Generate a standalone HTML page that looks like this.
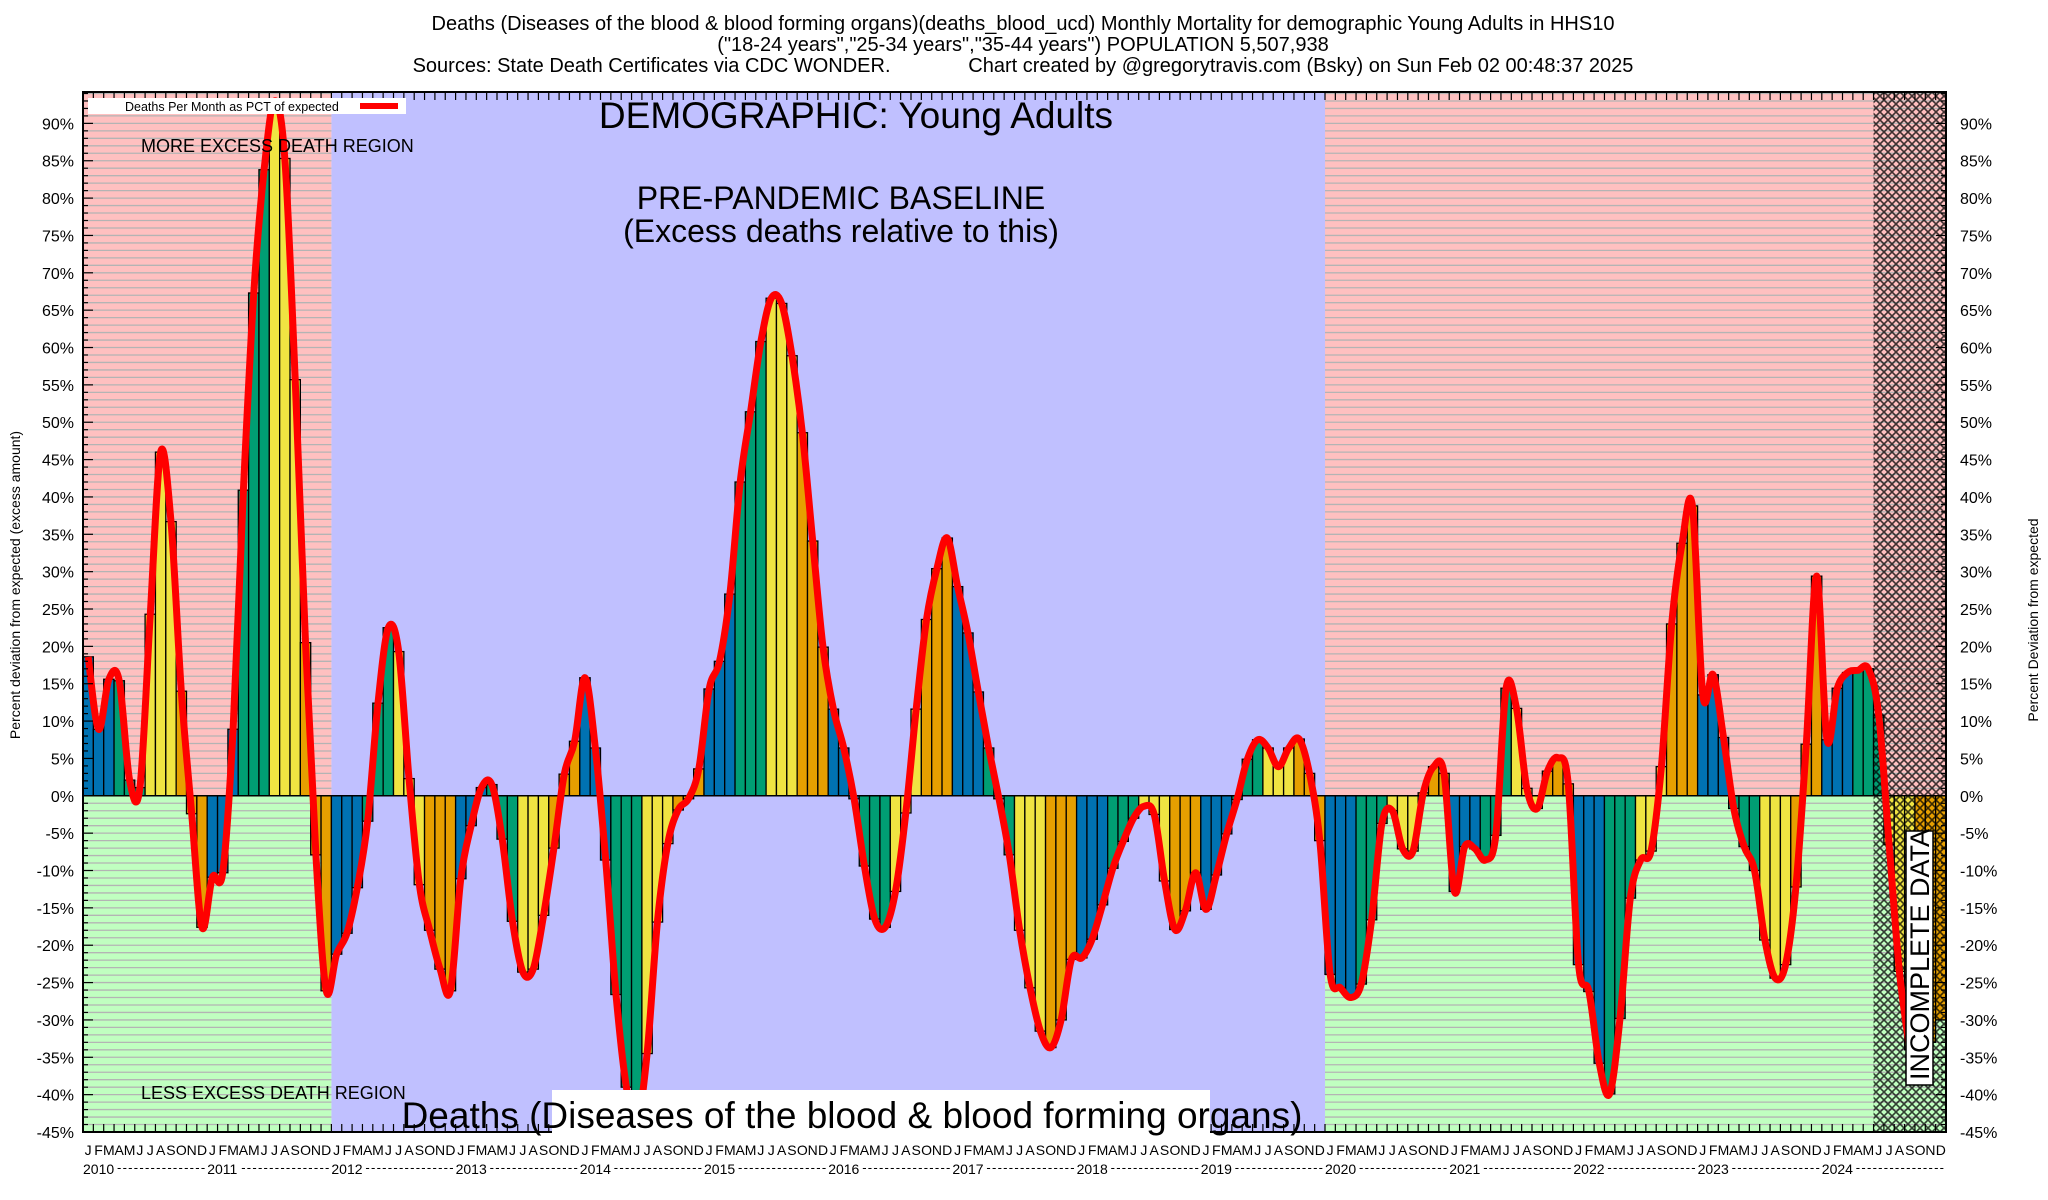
<!DOCTYPE html>
<html><head><meta charset="utf-8"><style>
html,body{margin:0;padding:0;background:#fff;}
svg{display:block;font-family:"Liberation Sans",sans-serif;}
</style></head><body>
<svg id="chart" xmlns="http://www.w3.org/2000/svg" width="2048" height="1200" viewBox="0 0 2048 1200">
<defs>
<pattern id="hatch" width="8" height="8" patternUnits="userSpaceOnUse">
<path d="M0,0 L8,8 M8,0 L0,8" stroke="#000" stroke-width="1.6" opacity="0.75"/>
</pattern>
</defs>
<g font-size="20" text-anchor="middle" fill="#000">
<text x="1023" y="30">Deaths (Diseases of the blood &amp; blood forming organs)(deaths_blood_ucd) Monthly Mortality for demographic Young Adults in HHS10</text>
<text x="1023" y="51">("18-24 years","25-34 years","35-44 years") POPULATION 5,507,938</text>
<text x="1023" y="72" xml:space="preserve">Sources: State Death Certificates via CDC WONDER.              Chart created by @gregorytravis.com (Bsky) on Sun Feb 02 00:48:37 2025</text>
</g>
<g id="bg"></g>
<g id="grid"></g>
<g id="bars"></g>
<g id="hatchg"></g>
<g id="line"></g>
<g id="axes"></g>
<g id="labels"></g>
</svg>
<script>
const values = [
18.6,8.9,15.6,15.4,2.1,1.1,24.3,46,36.7,14,-2.4,-17.6,
-10.9,-10.3,8.9,40.9,67.3,83.8,93,85.3,55.7,20.5,-7.9,-26.1,
-21.2,-18.4,-12.3,-3.4,12.4,22.5,19.3,2.3,-11.9,-18,-23.2,-26.1,
-11.1,-4,1.1,1.5,-5.8,-16.8,-23.6,-23.2,-16,-7,2.9,7.3,
15.8,6.4,-8.6,-26.6,-39,-44,-34.5,-16.9,-6.4,-1.9,-0.4,3.6,
14.3,18,27,42,51.4,60.8,66.6,65.9,58.9,48.6,34.1,19.9,
11.6,6.4,-0.4,-9.4,-16.5,-17.6,-12.8,-2.3,11.6,23.6,30.4,34.5,
28,21.8,13.9,6.4,-0.4,-7.9,-18,-25.7,-31.5,-33.7,-30,-21.9,
-21.7,-19.2,-14.6,-9.7,-6.1,-3,-1.4,-2.5,-11.4,-17.9,-15.4,-10.3,
-15.2,-10.6,-5.1,-0.5,4.9,7.5,6.4,3.9,6.4,7.6,3,-6,
-23.9,-25.7,-27,-25.2,-16.6,-3.7,-2,-7.1,-7.4,0.4,3.9,3,
-12.8,-6.8,-7.1,-8.6,-5.3,14.4,11.7,1,-1.7,3.3,5.1,1.6,
-22.6,-26.2,-35.8,-39.9,-29.8,-13.7,-8.6,-7.4,3.9,23,33.8,38.8,
13.5,16.2,7.8,-1.7,-6.8,-10,-19.3,-24.4,-22.6,-12.2,6.9,29.4,
7.5,14.4,16.5,16.8,17,10.8,-6.5,-23.5,-34,-37,-33,-30
];
const years = [2010,2011,2012,2013,2014,2015,2016,2017,2018,2019,2020,2021,2022,2023,2024];
const monthLetters = ["J","F","M","A","M","J","J","A","S","O","N","D"];
const yTicks = [-45,-40,-35,-30,-25,-20,-15,-10,-5,0,5,10,15,20,25,30,35,40,45,50,55,60,65,70,75,80,85,90];
const incompleteStart = 173;
const lineEnd = 177;

const NS="http://www.w3.org/2000/svg";
const L=83,R=1946,T=92,B=1132,YMIN=-45,YMAX=94.2;
const N=years.length*12;
const mw=(R-L)/N;
function x(m){return L+m*mw;}
function y(v){return B-(v-YMIN)/(YMAX-YMIN)*(B-T);}
function mk(tag,attrs,parent){const e=document.createElementNS(NS,tag);for(const k in attrs)e.setAttribute(k,attrs[k]);parent.appendChild(e);return e;}
const bg=document.getElementById('bg'),grid=document.getElementById('grid'),bars=document.getElementById('bars'),
hg=document.getElementById('hatchg'),lg=document.getElementById('line'),ax=document.getElementById('axes');
const y0=y(0);
const regions=[[0,24,'pr'],[24,120,'b'],[120,N,'pr']];
regions.forEach(r=>{
 if(r[2]==='b'){const e=mk('rect',{x:x(r[0]),y:T,width:x(r[1])-x(r[0]),height:B-T,fill:'#c0c0ff'},bg);
 
 }
 else{const a=mk('rect',{x:x(r[0]),y:T,width:x(r[1])-x(r[0]),height:y0-T,fill:'#ffc0c0'},bg);
 
 
 const b=mk('rect',{x:x(r[0]),y:y0,width:x(r[1])-x(r[0]),height:B-y0,fill:'#c0ffc0'},bg);
 
 
 for(let v=-44;v<=94;v++){if(v===0)continue;mk('line',{x1:x(r[0]),x2:x(r[1]),y1:y(v),y2:y(v),stroke:'#b4b4b4','stroke-width':1.3},grid);}
 }
});
const cols=['#0072b2','#009e73','#f0e442','#e69f00'];
values.forEach((v,i)=>{
 const top=Math.min(y(v),y0),h=Math.abs(y(v)-y0);
 const e=mk('rect',{x:x(i),y:top,width:mw,height:h,fill:cols[Math.floor((i%12)/3)],stroke:'#000','stroke-width':1.3},bars);
 
 
});
mk('line',{x1:L,x2:R,y1:y0,y2:y0,stroke:'#000','stroke-width':1.5},bars);
const hr=mk('rect',{x:x(incompleteStart),y:T,width:R-x(incompleteStart),height:B-T,fill:'url(#hatch)'},hg);


const pts=values.slice(0,lineEnd).map((v,i)=>[x(i+0.5),y(v)]);
let d='M'+pts[0][0]+','+pts[0][1];
for(let i=0;i<pts.length-1;i++){
 const p0=pts[Math.max(0,i-1)],p1=pts[i],p2=pts[i+1],p3=pts[Math.min(pts.length-1,i+2)];
 const c1=[p1[0]+(p2[0]-p0[0])/6,p1[1]+(p2[1]-p0[1])/6],c2=[p2[0]-(p3[0]-p1[0])/6,p2[1]-(p3[1]-p1[1])/6];
 d+=' C'+c1[0].toFixed(1)+','+c1[1].toFixed(1)+' '+c2[0].toFixed(1)+','+c2[1].toFixed(1)+' '+p2[0].toFixed(1)+','+p2[1].toFixed(1);
}
const ln=mk('path',{d:d,fill:'none',stroke:'#ff0000','stroke-width':7,'stroke-linejoin':'round'},lg);


mk('rect',{x:L,y:T,width:R-L,height:B-T,fill:'none',stroke:'#000','stroke-width':2},ax);
for(let v=-45;v<=94;v++){
 const len=(v%5===0)?10:5;
 mk('line',{x1:L,x2:L+len,y1:y(v),y2:y(v),stroke:'#000','stroke-width':1.2},ax);
 mk('line',{x1:R-len,x2:R,y1:y(v),y2:y(v),stroke:'#000','stroke-width':1.2},ax);
}
for(let m=0;m<=N;m++){
 mk('line',{x1:x(m),x2:x(m),y1:B,y2:B-8,stroke:'#000','stroke-width':1.2},ax);
 mk('line',{x1:x(m),x2:x(m),y1:T,y2:T+8,stroke:'#000','stroke-width':1.2},ax);
}
yTicks.forEach(v=>{
 const a=mk('text',{x:L-9,y:y(v)+6,'font-size':16,'text-anchor':'end'},ax);a.textContent=v+'%';
 
 
 const b=mk('text',{x:R+14,y:y(v)+6,'font-size':16,'text-anchor':'start'},ax);b.textContent=v+'%';
 
 
});
for(let m=0;m<N;m++){
 const t=mk('text',{x:x(m+0.5),y:1155,'font-size':14,'text-anchor':'middle'},ax);t.textContent=monthLetters[m%12];
 
 
}
years.forEach((yr,i)=>{
 const t=mk('text',{x:x(i*12),y:1174,'font-size':14},ax);t.textContent=yr;
 
 
 const dd=mk('text',{x:x(i*12)+34,y:1172,'font-size':13,textLength:x(i*12+12)-x(i*12)-36,lengthAdjust:'spacing'},ax);
 dd.textContent='----------------';
 
 
});
</script>
<script>
const lab=document.getElementById('labels');
lab.innerHTML=`
<g>
<rect x="88" y="98" width="318" height="16" fill="#fff"/>
<text x="125" y="111" font-size="12.5">Deaths Per Month as PCT of expected</text>
<line x1="360" y1="106" x2="398" y2="106" stroke="#ff0000" stroke-width="6"/>
</g>
<text x="856" y="128" font-size="37" text-anchor="middle">DEMOGRAPHIC: Young Adults</text>
<text x="841" y="209" font-size="32" text-anchor="middle">PRE-PANDEMIC BASELINE</text>
<text x="841" y="242" font-size="32" text-anchor="middle">(Excess deaths relative to this)</text>
<text x="141" y="152" font-size="18">MORE EXCESS DEATH REGION</text>
<text x="141" y="1099" font-size="18">LESS EXCESS DEATH REGION</text>
<rect x="552" y="1090" width="658" height="43" fill="#fff"/>
<text x="852" y="1128" font-size="37" text-anchor="middle">Deaths (Diseases of the blood &amp; blood forming organs)</text>
<g>
<rect x="1906" y="831" width="27" height="254" fill="#fff" stroke="#000" stroke-width="1.5"/>
<text x="1929" y="1080" font-size="27" transform="rotate(-90 1929 1080)">INCOMPLETE DATA</text>
</g>
<text x="20" y="585" font-size="14" text-anchor="middle" transform="rotate(-90 20 585)">Percent deviation from expected (excess amount)</text>
<text x="2038" y="620" font-size="14" text-anchor="middle" transform="rotate(-90 2038 620)">Percent Deviation from expected</text>
`;
</script>
</body></html>
